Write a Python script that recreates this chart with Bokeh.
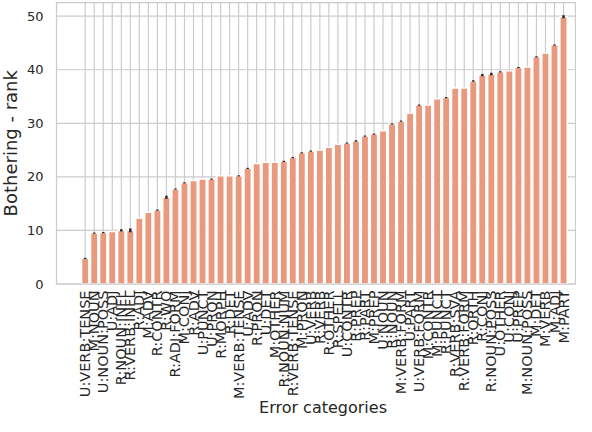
import math
from bokeh.plotting import figure
from bokeh.models import Range1d
from bokeh.core.properties import value
from bokeh.embed import file_html
from bokeh.resources import INLINE

categories = [
    "U:VERB:TENSE", "M:NOUN", "U:NOUN:POSS", "U:ADJ", "R:NOUN:INFL", "R:VERB:INFL",
    "R:ADJ", "M:ADV", "R:CONTR", "R:WO", "R:ADJ:FORM", "M:CONJ",
    "R:ADV", "U:PUNCT", "U:PRON", "R:MORPH", "R:DET", "M:VERB:TENSE",
    "U:ADV", "R:PRON", "U:DET", "M:OTHER", "R:NOUN:NUM", "R:VERB:TENSE",
    "M:PRON", "U:VERB", "R:VERB", "R:OTHER", "R:SPELL", "U:CONTR",
    "R:PREP", "R:PART", "M:PREP", "U:NOUN", "R:NOUN", "M:VERB:FORM",
    "U:PART", "U:VERB:FORM", "M:CONTR", "M:PUNCT", "R:PUNCT", "R:VERB:SVA",
    "R:VERB:FORM", "R:ORTH", "R:CONJ", "R:NOUN:POSS", "U:OTHER", "U:CONJ",
    "U:PREP", "M:NOUN:POSS", "M:DET", "M:VERB", "M:ADJ", "M:PART",
]
ranks = [
    4.8, 9.5, 9.6, 9.8, 10.0, 10.0,
    12.3, 13.4, 13.8, 16.2, 17.7, 18.9,
    19.3, 19.6, 19.6, 20.2, 20.2, 20.2,
    21.6, 22.5, 22.7, 22.7, 22.9, 23.6,
    24.5, 24.8, 25.0, 25.5, 26.1, 26.3,
    26.7, 27.6, 28.0, 28.6, 29.9, 30.4,
    31.9, 33.4, 33.4, 34.6, 34.8, 36.6,
    36.6, 37.9, 39.0, 39.2, 39.6, 39.8,
    40.4, 40.5, 42.4, 43.1, 44.6, 49.9,
]
errors = [
    0.12, 0.12, 0.12, 0.0, 0.2, 0.35,
    0.0, 0.0, 0.12, 0.28, 0.12, 0.12,
    0.0, 0.0, 0.12, 0.0, 0.0, 0.12,
    0.12, 0.0, 0.0, 0.0, 0.12, 0.12,
    0.12, 0.12, 0.0, 0.0, 0.0, 0.12,
    0.12, 0.12, 0.12, 0.0, 0.12, 0.12,
    0.0, 0.12, 0.0, 0.0, 0.12, 0.0,
    0.0, 0.12, 0.22, 0.22, 0.12, 0.0,
    0.12, 0.0, 0.12, 0.0, 0.12, 0.3,
]
y_ticks = [0, 10, 20, 30, 40, 50]
y_tick_labels = ["0", "10", "20", "30", "40", "50"]
x_title = "Error categories"
y_title = "Bothering - rank"

FONT = "DejaVu Sans"
TXT = "#262626"
GRID = "#cccccc"
BAR = "#E9997D"

# canvas-pixel layout -> data coordinates (canvas is the whole 576x416 figure)
PX_PER_CAT = 9.025      # px per category
PX_PER_UNIT = 5.356     # px per rank unit
X_FIRST = 84.7          # canvas x of first category
Y_ZERO = 283.5          # canvas y of rank 0
W, H = 576, 416


def dx(px):
    return (px - X_FIRST) / PX_PER_CAT


def dy(py):
    return (Y_ZERO - py) / PX_PER_UNIT


xs = list(range(len(categories)))
lows = [v - e for v, e in zip(ranks, errors)]
highs = [v + e for v, e in zip(ranks, errors)]

left, right, top = dx(56), dx(575), dy(2)

p = figure(width=W, height=H, output_backend="svg", toolbar_location=None,
           x_range=Range1d(dx(0), dx(W)), y_range=Range1d(dy(H), dy(0)),
           x_axis_type=None, y_axis_type=None, min_border=0)
p.background_fill_color = "white"
p.border_fill_color = "white"
p.outline_line_color = None
p.grid.visible = False

# grid lines (behind bars)
p.segment(x0=xs, y0=[0] * len(xs), x1=xs, y1=[top] * len(xs),
          line_color=GRID, line_width=1.2)
p.segment(x0=[left] * len(y_ticks), y0=y_ticks, x1=[right] * len(y_ticks), y1=y_ticks,
          line_color=GRID, line_width=1.2)

# bars and error bars
p.vbar(x=xs, top=ranks, width=0.8, fill_color=BAR, line_color="white", line_width=1.4)
p.segment(x0=xs, y0=lows, x1=xs, y1=highs, line_color=TXT, line_width=2.5)

# axes frame (spines)
p.quad(left=[left], right=[right], bottom=[0], top=[top],
       fill_color=None, line_color=GRID, line_width=1.25)

# x tick labels (rotated, ending just under the axis)
p.text(x=xs, y=[dy(290)] * len(xs), text=categories, angle=math.pi / 2,
       text_align="right", text_baseline="middle",
       text_font=value(FONT), text_font_size=value("14.5px"), text_color=TXT)

# y tick labels
p.text(x=[dx(43)] * len(y_ticks), y=y_ticks, text=y_tick_labels,
       text_align="right", text_baseline="middle",
       text_font=value(FONT), text_font_size=value("13px"), text_color=TXT)

# axis titles
p.text(x=[(dx(56) + dx(589)) / 2], y=[dy(407)], text=[x_title],
       text_align="center", text_baseline="middle",
       text_font=value(FONT), text_font_size=value("16px"), text_color=TXT)
p.text(x=[dx(10)], y=[dy(142.75)], text=[y_title], angle=math.pi / 2,
       text_align="center", text_baseline="middle",
       text_font=value(FONT), text_font_size=value("18px"), text_color=TXT)

open("out.html", "w").write(file_html(p, INLINE))
